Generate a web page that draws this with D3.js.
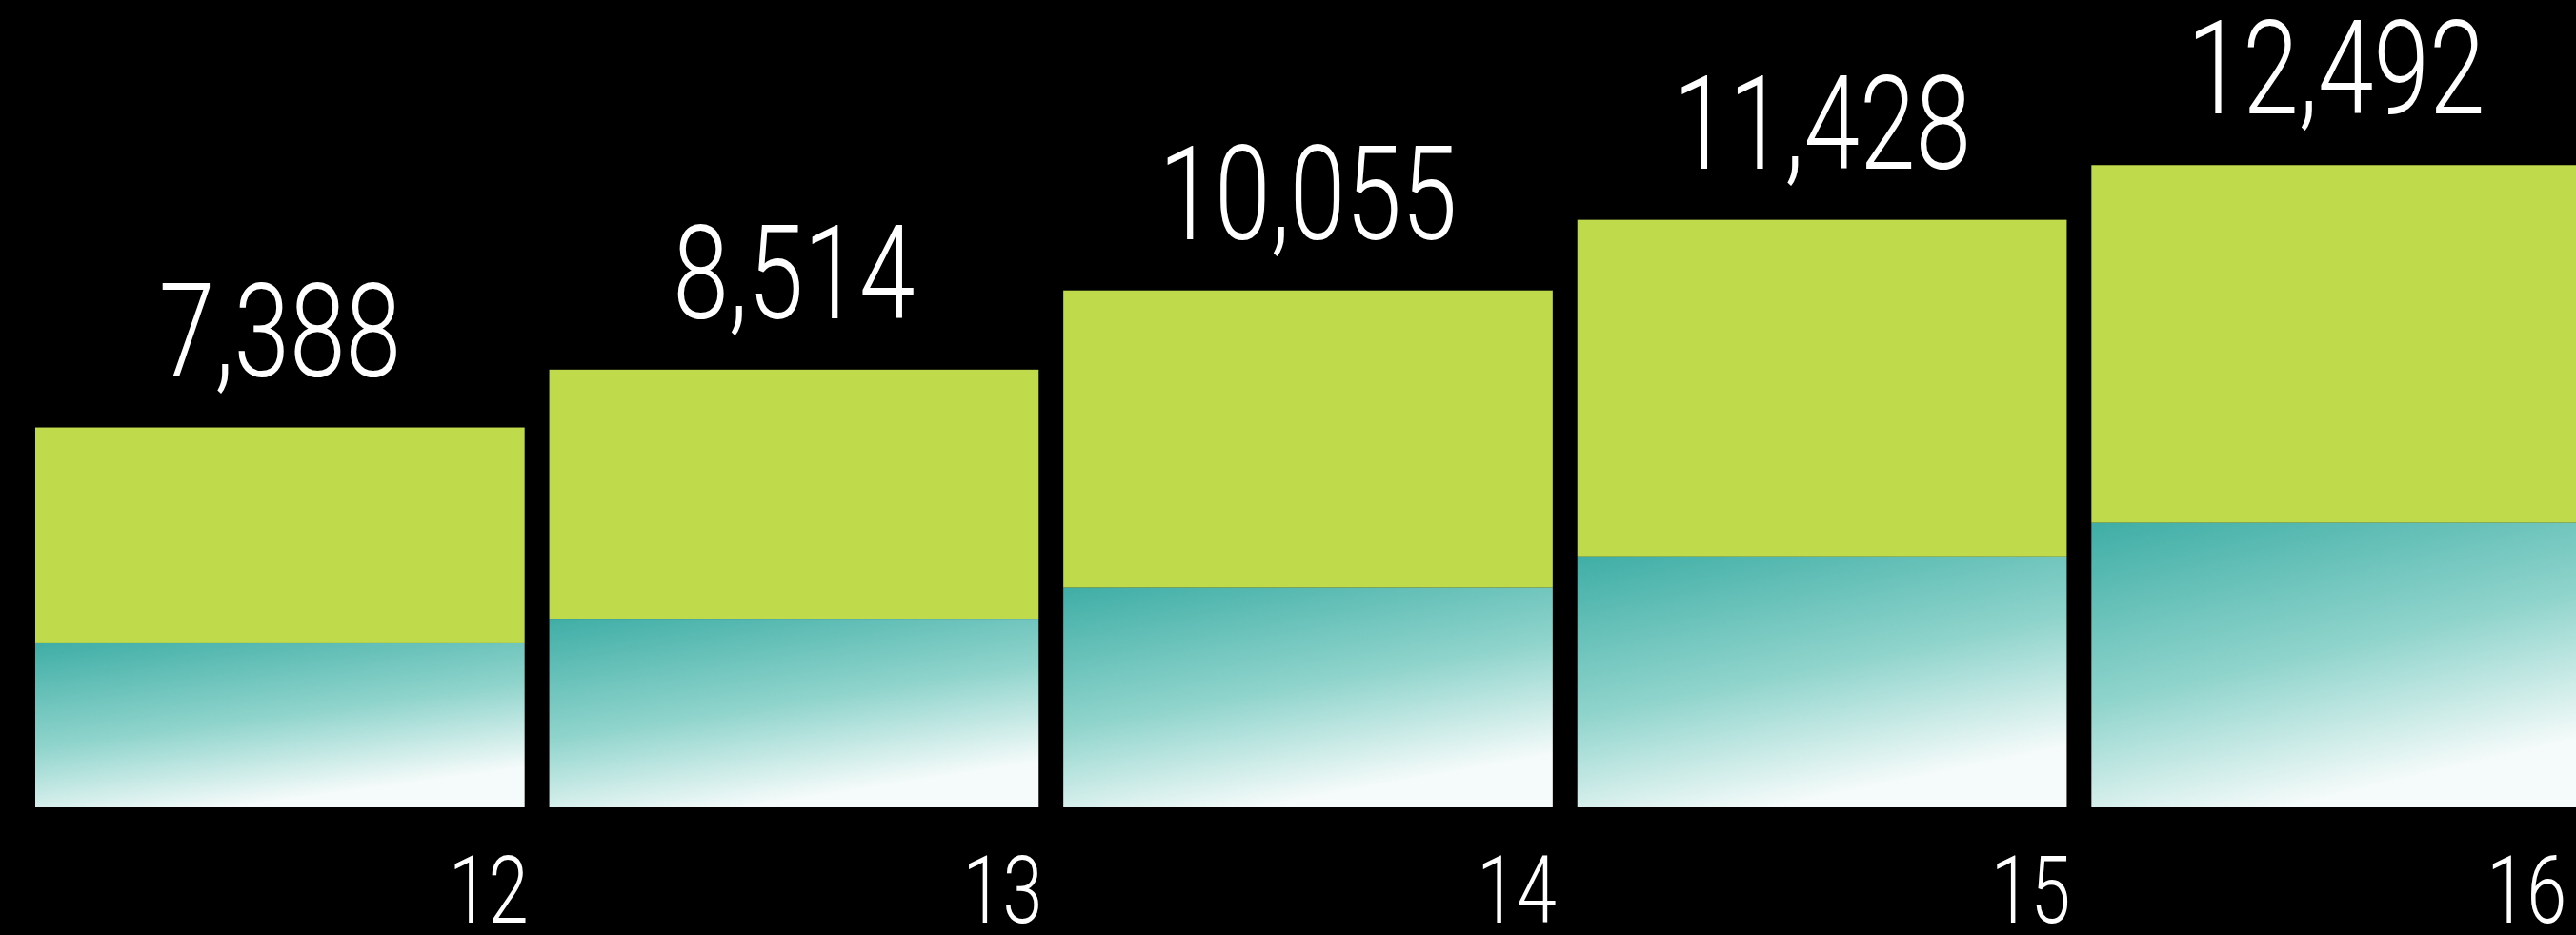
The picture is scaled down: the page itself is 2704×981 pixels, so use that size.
<!DOCTYPE html>
<html>
<head>
<meta charset="utf-8">
<script src="https://cdn.jsdelivr.net/npm/d3@7"></script>
<style>
  html, body { margin: 0; padding: 0; background: #000; overflow: hidden; }
  text { font-family: Roboto, 'Liberation Sans', sans-serif; font-weight: 300; fill: #fff; }
</style>
</head>
<body>
<div id="chart"></div>
<script>
const w = 2704;
const h = 981;

// fiscal years and totals shown above the bars
const years = ['12', '13', '14', '15', '16'];
const totals = [7388, 8514, 10055, 11428, 12492];
// lower (teal) part of each bar
const base = [3190, 3670, 4270, 4880, 5530];

const squeeze = 0.77; // the labels use a condensed face

const svg = d3.select('#chart')
  .append('svg')
  .attr('width', w)
  .attr('height', h);

const defs = svg.append('defs');
const grad = defs.append('linearGradient')
  .attr('id', 'teal')
  .attr('x1', 0).attr('y1', 0)
  .attr('x2', 0.4).attr('y2', 1);
grad.append('stop').attr('offset', '0%').attr('stop-color', '#3faea6');
grad.append('stop').attr('offset', '55%').attr('stop-color', '#8fd4cc');
grad.append('stop').attr('offset', '100%').attr('stop-color', '#f5fbfa');

const x = d3.scaleBand()
  .domain(years)
  .range([37, 2709])
  .paddingInner(0.048)
  .paddingOuter(0);

const y = d3.scaleLinear()
  .domain([0, 15000])
  .range([847, 38]);

const data = years.map((yr, i) => ({ yr: yr, total: totals[i], base: base[i] }));

const bars = svg.selectAll('.bar')
  .data(data)
  .enter()
  .append('g')
  .attr('class', 'bar');

// green top part
bars.append('rect')
  .attr('x', d => x(d.yr))
  .attr('y', d => y(d.total))
  .attr('width', x.bandwidth())
  .attr('height', d => y(d.base) - y(d.total))
  .style('fill', '#bfdb4c');

// teal bottom part
bars.append('rect')
  .attr('x', d => x(d.yr))
  .attr('y', d => y(d.base))
  .attr('width', x.bandwidth())
  .attr('height', d => y(0) - y(d.base))
  .style('fill', 'url(#teal)');

// value labels
bars.append('text')
  .attr('transform', d => `translate(${x(d.yr) + x.bandwidth() / 2},${y(d.total) - 54}) scale(${squeeze},1)`)
  .attr('text-anchor', 'middle')
  .style('font-size', '137px')
  .text(d => d3.format(',')(d.total));

// year labels, right aligned under each bar (kept inside the page)
const right = yr => Math.min(x(yr) + x.bandwidth() + 4, w - 10);

svg.append('g')
  .selectAll('text')
  .data(years)
  .enter()
  .append('text')
  .attr('transform', d => `translate(${right(d)},${y(0) + 121}) scale(${squeeze},1)`)
  .attr('text-anchor', 'end')
  .style('font-size', '98px')
  .text(d => d);
</script>
</body>
</html>
